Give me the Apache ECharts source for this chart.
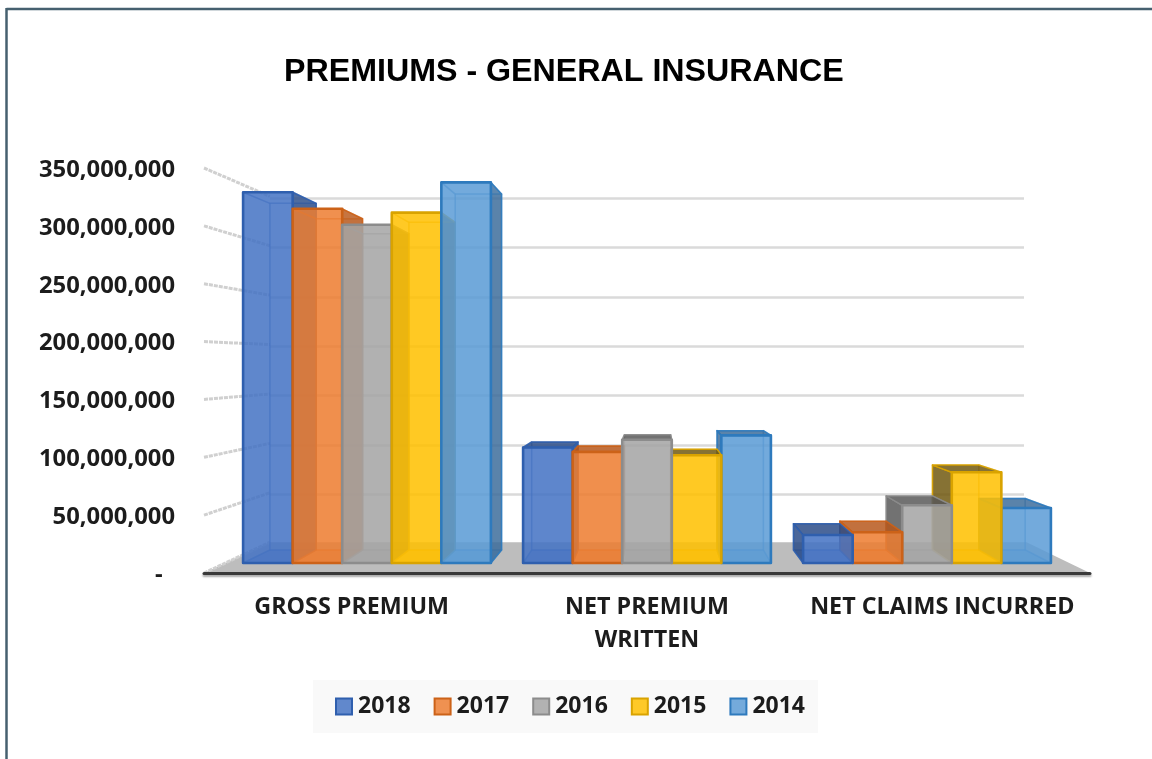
<!DOCTYPE html>
<html><head><meta charset="utf-8">
<style>html,body{margin:0;padding:0;background:#fff}#c{width:1152px;height:759px;filter:blur(0.5px)}</style>
<script src="https://cdn.jsdelivr.net/npm/echarts@6/dist/echarts.min.js"></script>
</head><body><div id="c"></div>
<script>
const categories = ['GROSS PREMIUM', 'NET PREMIUM\nWRITTEN', 'NET CLAIMS INCURRED'];
const years = ['2018', '2017', '2016', '2015', '2014'];
const values2018 = [337000000, 105000000, 25500000];
const values2017 = [322000000, 101000000, 28000000];
const values2016 = [307500000, 112000000, 52500000];
const values2015 = [318500000, 98000000, 82500000];
const values2014 = [346000000, 116000000, 50000000];
const axisTicks = [0, 50000000, 100000000, 150000000, 200000000, 250000000, 300000000, 350000000];

const seriesValues = [values2018, values2017, values2016, values2015, values2014];
const fills = ['#4472C4', '#ED7D31', '#A5A5A5', '#FFC000', '#5B9BD5'];
const edges = ['#2F5FAE', '#CC6218', '#8C8C8C', '#D9A300', '#2E7ABD'];
const sides = ['#2A4A85', '#B5561A', '#555555', '#6B5410', '#3A6A98'];

// perspective of the 3D box
const VP = [655, 362], WALL_DEPTH = 0.854, BAR_DEPTH = 0.935, BAR_FRAC = 0.177;
const project = (p, s) => [VP[0] + s * (p[0] - VP[0]), VP[1] + s * (p[1] - VP[1])];
const rgba = (hex, a) => {
  const n = parseInt(hex.slice(1), 16);
  return `rgba(${n >> 16},${(n >> 8) & 255},${n & 255},${a})`;
};

function barRenderer(si) {
  return function (params, api) {
    const base = api.coord([api.value(0), 0]);
    const top = api.coord([api.value(0), api.value(1)]);
    const band = api.size([1, 0])[0];
    const w = band * BAR_FRAC;
    const x0 = base[0] + (si - 2.5) * w, x1 = x0 + w;
    const fA = [x0, top[1]], fB = [x1, top[1]], fC = [x1, base[1]], fD = [x0, base[1]];
    const [bA, bB, bC, bD] = [fA, fB, fC, fD].map(p => project(p, BAR_DEPTH));
    const rank = 300 - Math.round(Math.abs((x0 + x1) / 2 - VP[0]) / 10);
    const rightVisible = bB[0] > fB[0], leftVisible = bA[0] < fA[0], topVisible = fA[1] > VP[1];
    const poly = (pts, fill, stroke, lw, sub) => ({
      type: 'polygon', z2: rank * 10 + sub, silent: true,
      shape: { points: pts },
      style: { fill, stroke, lineWidth: lw, lineJoin: 'round' }
    });
    const faint = rgba(fills[si], 0.10), line = rgba(edges[si], 0.35);
    const side = rgba(sides[si], 0.82);
    return {
      type: 'group',
      children: [
        poly([bA, bB, bC, bD], rgba(fills[si], 0.15), line, 1.5, 0),
        poly([fD, fC, bC, bD], rgba(fills[si], 0.5), line, 1.5, 1),
        poly([fA, bA, bD, fD], leftVisible ? side : faint, leftVisible ? rgba(edges[si], 0.9) : line, 1.5, 2),
        poly([fB, bB, bC, fC], rightVisible ? side : faint, rightVisible ? rgba(edges[si], 0.9) : line, 1.5, 2),
        poly([fA, fB, bB, bA], topVisible ? side : faint, topVisible ? rgba(edges[si], 0.9) : line, 1.5, 3),
        poly([fA, fB, fC, fD], rgba(fills[si], 0.84), edges[si], 2.6, 4)
      ]
    };
  };
}

const chart = echarts.init(document.getElementById('c'), null, { renderer: 'canvas' });
const labelFont = { fontFamily: '"Open Sans"', fontWeight: 'bold', color: '#1c1c1c' };

const barSeries = years.map((y, si) => ({
  name: y, type: 'custom', coordinateSystem: 'cartesian2d',
  xAxisIndex: 2, yAxisIndex: 2, z: 3, silent: true,
  itemStyle: { color: rgba(fills[si], 0.84), borderColor: edges[si], borderWidth: 2 },
  encode: { x: 0, y: 1 },
  renderItem: barRenderer(si),
  data: seriesValues[si].map((v, i) => [i, v])
}));

chart.setOption({
  animation: false,
  backgroundColor: '#fff',
  title: {
    text: 'PREMIUMS - GENERAL INSURANCE', left: 279, top: 51,
    textStyle: { fontFamily: '"Liberation Sans"', fontWeight: 'bold', fontSize: 32.2, color: '#000' }
  },
  legend: {
    left: 313, top: 680, data: years, orient: 'horizontal',
    backgroundColor: '#F9F9F9', padding: [15, 13, 15, 22],
    itemWidth: 16, itemHeight: 16, itemGap: 23, icon: 'rect',
    selectedMode: false,
    textStyle: { ...labelFont, fontSize: 23, padding: [0, 0, 0, 1] }
  },
  grid: [
    { left: 204, right: 62, top: 168, bottom: 186 },
    { left: 270, right: 128, top: 198, bottom: 215 },
    { left: 227, right: 85, top: 178, bottom: 196 },
    { left: 204, right: 62, top: 170, bottom: 184 }
  ],
  xAxis: [
    { gridIndex: 0, type: 'category', data: categories, z: 4,
      axisLine: { lineStyle: { color: '#3a3a3a', width: 3, shadowColor: '#aaaaaa', shadowBlur: 2, shadowOffsetY: 2 } },
      axisTick: { show: false },
      axisLabel: { ...labelFont, fontSize: 23.3, margin: 18, lineHeight: 33, interval: 0 } },
    { gridIndex: 1, type: 'category', data: categories, show: false },
    { gridIndex: 2, type: 'category', data: categories, show: false },
    { gridIndex: 3, type: 'category', data: categories, show: false }
  ],
  yAxis: [
    { gridIndex: 0, type: 'value', min: 0, max: 350000000, interval: 50000000, show: false },
    { gridIndex: 1, type: 'value', min: 0, max: 350000000, interval: 50000000,
      axisLine: { show: false }, axisTick: { show: false }, axisLabel: { show: false },
      splitLine: { lineStyle: { color: '#DADADA', width: 2.5 } } },
    { gridIndex: 2, type: 'value', min: 0, max: 350000000, show: false },
    { gridIndex: 3, type: 'value', min: 0, max: 350000000, interval: 50000000,
      axisLine: { show: false }, axisTick: { show: false }, splitLine: { show: false },
      axisLabel: { ...labelFont, fontSize: 23.8, margin: 29,
        formatter: v => v === 0 ? '-\u00A0\u00A0' : v.toLocaleString('en-US') } }
  ],
  series: [
    { type: 'custom', name: 'floor', coordinateSystem: 'cartesian2d', xAxisIndex: 0, yAxisIndex: 0, z: 1, silent: true,
      data: [[0, 0]], encode: { x: 0, y: 1 },
      renderItem(params) {
        const g = params.coordSys;
        const fl = [g.x, g.y + g.height], fr = [g.x + g.width, g.y + g.height];
        return { type: 'polygon',
          shape: { points: [fl, fr, project(fr, WALL_DEPTH), project(fl, WALL_DEPTH)] },
          style: { fill: '#BDBDBD' } };
      } },
    { type: 'custom', name: 'wall', coordinateSystem: 'cartesian2d', xAxisIndex: 0, yAxisIndex: 0, z: 1, silent: true,
      data: axisTicks.map(v => [0, v]), encode: { x: 0, y: 1 },
      renderItem(params, api) {
        const g = params.coordSys;
        const f = [g.x, api.coord([0, api.value(1)])[1]];
        const b = project(f, WALL_DEPTH);
        return { type: 'line',
          shape: { x1: f[0], y1: f[1], x2: b[0], y2: b[1] },
          style: { stroke: '#D0D0D0', lineWidth: 3, lineDash: [4, 1] } };
      } },
    ...barSeries
  ],
  graphic: [
    { type: 'line', silent: true, shape: { x1: 6.5, y1: 9, x2: 1152, y2: 9 }, style: { stroke: '#46606F', lineWidth: 2.5 } },
    { type: 'line', silent: true, shape: { x1: 6.5, y1: 8, x2: 6.5, y2: 759 }, style: { stroke: '#46606F', lineWidth: 2.5 } }
  ]
});
</script></body></html>
